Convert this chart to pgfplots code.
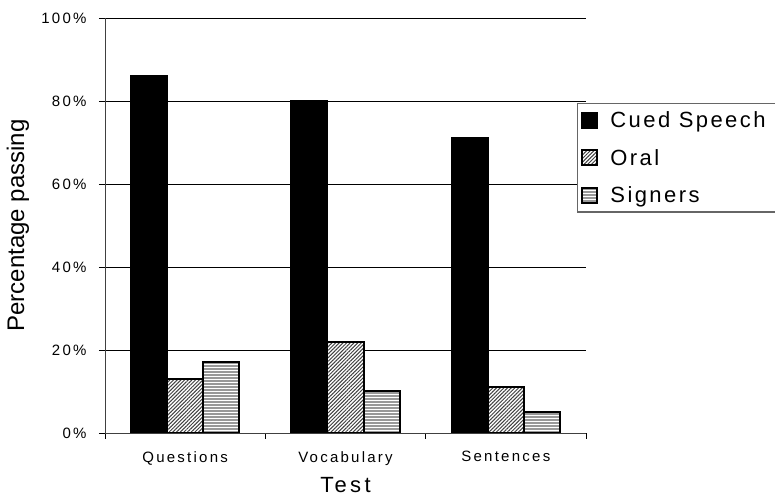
\documentclass[border=0pt]{standalone}
\usepackage{fontspec}
\setmainfont{Liberation Sans}
\newfontfamily\spaced[LetterSpace=15]{Liberation Sans}
\newfontfamily\legendfont[LetterSpace=11]{Liberation Sans}
\usepackage{pgfplots}
\pgfplotsset{compat=1.18}
\usetikzlibrary{patterns,patterns.meta}

% wide tiles so that the horizontal stripes show no seams
\pgfdeclarepatternformonly{hstripes}{\pgfpoint{-1bp}{-1bp}}{\pgfpoint{201bp}{4bp}}{\pgfpoint{200bp}{3bp}}{
   \pgfpathrectangle{\pgfpoint{-1bp}{0bp}}{\pgfpoint{202bp}{1.5bp}}\pgfusepath{fill}}

\begin{document}
\begin{tikzpicture}
\useasboundingbox (0,0) rectangle (775bp,502bp);
\begin{axis}[
   at={(105bp,69bp)}, anchor=south west,
   scale only axis, width=481bp, height=415bp,
   ybar,
   legend image code/.code={
      \draw[#1] (2bp,-7.5bp) rectangle (17bp,7.5bp);},
   xmin=-0.5, xmax=2.5, ymin=0, ymax=100,
   axis x line*=bottom, axis y line*=left,
   axis line style={black!75, line width=1bp, -},
   xtick={0,1,2},
   xticklabels={Questions,Vocabulary,Sentences},
   minor xtick={-0.5,0.5,1.5,2.5},
   major x tick style={draw=none},
   tick align=outside,
   major tick length=6bp, minor tick length=6bp,
   tick style={black, line width=0.8bp},
   ytick={0,20,...,100},
   yticklabel={\pgfmathprintnumber{\tick}\%},
   /pgf/number format/assume math mode=true,
   ymajorgrids,
   major grid style={black, line width=0.8bp},
   ticklabel style={font=\spaced\fontsize{15bp}{18bp}\selectfont},
   xticklabel style={yshift=-9bp},
   yticklabel style={xshift=-9bp},
   xlabel={\spaced Test},
   ylabel={Percentage passing},
   xlabel style={font=\fontsize{22bp}{26bp}\selectfont, at={(axis description cs:0.5,-0.125)}, anchor=center},
   ylabel style={font=\fontsize{24bp}{28bp}\selectfont, at={(axis description cs:-0.181,0.5)}, anchor=center},
   legend style={at={(axis description cs:0.981,0.795)}, anchor=north west,
      draw=black!60, line width=1.2bp, fill=white,
      inner xsep=4bp, inner ysep=6bp, row sep=16bp,
      /tikz/every odd column/.append style={column sep=10bp},
      font=\legendfont\fontsize{22bp}{26bp}\selectfont},
   legend cell align=left,
]
\addplot[bar width=0.225, bar shift=-0.225, draw=black, line width=2bp, fill=black]
   coordinates {(0,86) (1,80) (2,71)};
\addplot[bar width=0.225, bar shift=0, draw=black, line width=2bp,
   preaction={fill=white}, pattern={Lines[angle=45,distance=2.6bp,line width=1bp]}, pattern color=black!75]
   coordinates {(0,13) (1,22) (2,11)};
\addplot[bar width=0.225, bar shift=0.225, draw=black, line width=2bp,
   preaction={fill=white}, pattern=hstripes, pattern color=black!40]
   coordinates {(0,17) (1,10) (2,5)};
\legend{Cued Speech\hspace*{12bp},Oral,Signers}
\end{axis}
\end{tikzpicture}
\end{document}
